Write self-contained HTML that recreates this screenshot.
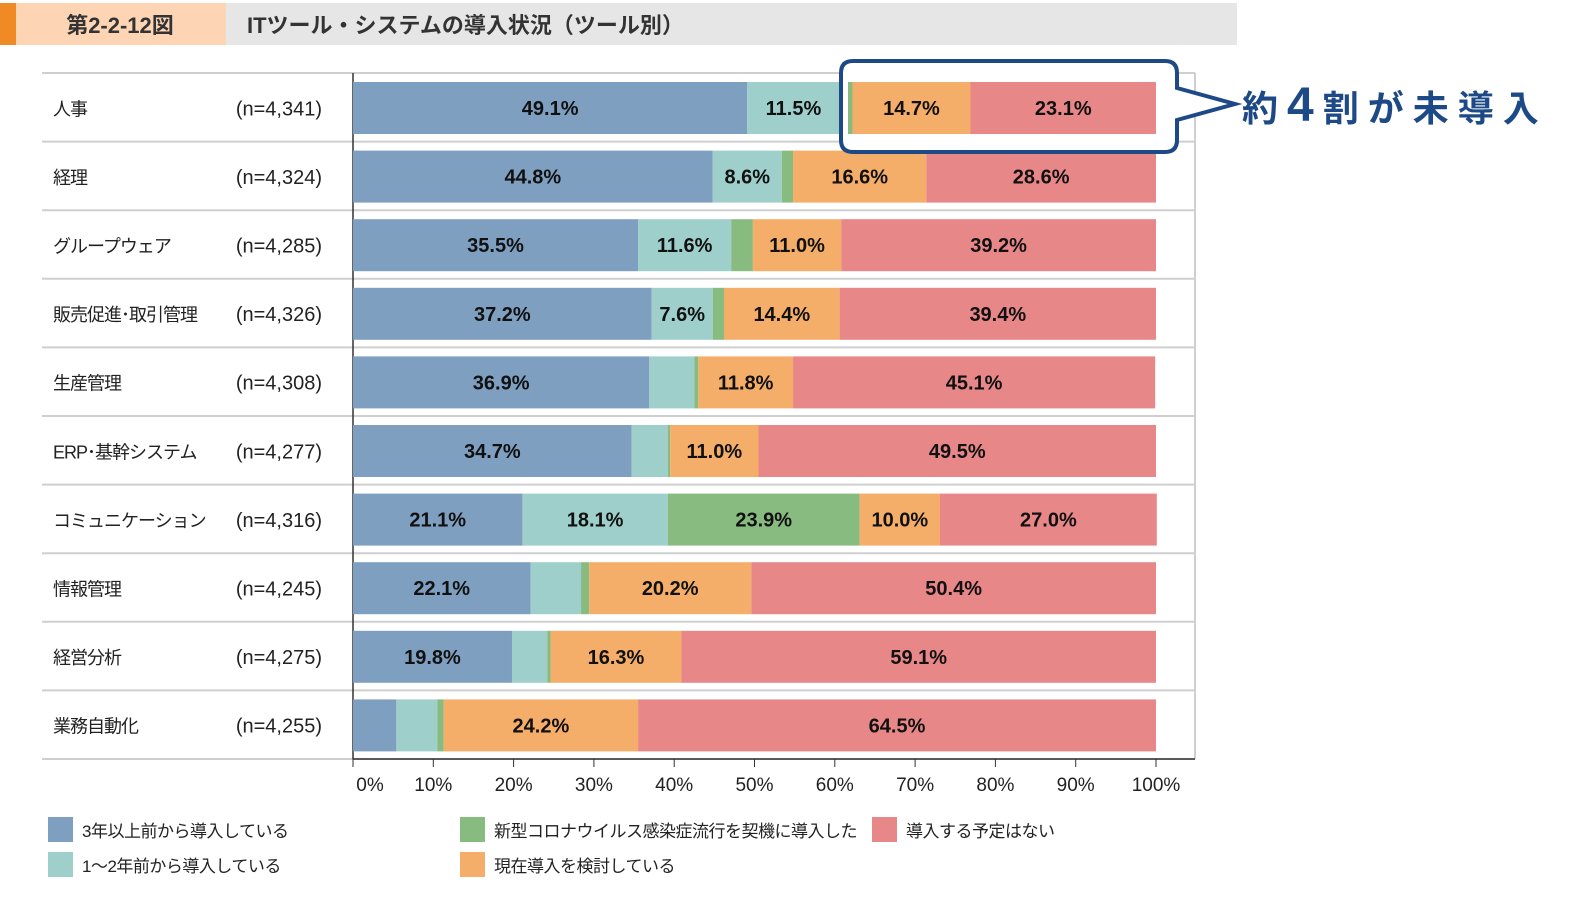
<!DOCTYPE html>
<html><head><meta charset="utf-8"><style>
body{margin:0;background:#fff;width:1590px;height:893px;overflow:hidden;font-family:"Liberation Sans","Noto Sans CJK JP",sans-serif}
svg text{font-family:"Liberation Sans","Noto Sans CJK JP",sans-serif}
</style></head><body>
<svg id="c" width="1590" height="893">
<rect x="0" y="3" width="16" height="42" fill="#f08a24"/>
<rect x="16" y="3" width="210" height="42" fill="#fdd5b4"/>
<text x="120" y="33" font-size="22" font-weight="bold" text-anchor="middle" fill="#333">第2-2-12図</text>
<rect x="226" y="3" width="1011" height="42" fill="#e6e6e6"/>
<text x="247" y="33" font-size="22" font-weight="bold" fill="#333">ITツール・システムの導入状況（ツール別）</text>
<g id="plot"></g>
</svg>
<script>
const categories=["人事","経理","グループウェア","販売促進･取引管理","生産管理","ERP･基幹システム","コミュニケーション","情報管理","経営分析","業務自動化"];
const sampleSizes=["(n=4,341)","(n=4,324)","(n=4,285)","(n=4,326)","(n=4,308)","(n=4,277)","(n=4,316)","(n=4,245)","(n=4,275)","(n=4,255)"];
const over3yrs=[49.1,44.8,35.5,37.2,36.9,34.7,21.1,22.1,19.8,5.4];
const oneTo2yrs=[11.5,8.6,11.6,7.6,5.6,4.5,18.1,6.3,4.4,5.1];
const covid=[1.6,1.4,2.7,1.4,0.5,0.3,23.9,1.0,0.4,0.8];
const considering=[14.7,16.6,11.0,14.4,11.8,11.0,10.0,20.2,16.3,24.2];
const noPlan=[23.1,28.6,39.2,39.4,45.1,49.5,27.0,50.4,59.1,64.5];
const tickLabels=["0%","10%","20%","30%","40%","50%","60%","70%","80%","90%","100%"];
const seriesNames=["3年以上前から導入している","1～2年前から導入している","新型コロナウイルス感染症流行を契機に導入した","現在導入を検討している","導入する予定はない"];
const colors=["#7f9fc1","#9ecfca","#88bb80","#f4ae6a","#e88788"];
const series=[over3yrs,oneTo2yrs,covid,considering,noPlan];
const NS="http://www.w3.org/2000/svg";
const g=document.getElementById('plot');
const x0=353,pw=803,yTop=73,rowH=68.6;
const xs=v=>x0+v/100*pw;
const yr=i=>yTop+i*rowH;
function mk(t,a,p){const e=document.createElementNS(NS,t);for(const k in a)e.setAttribute(k,a[k]);(p||g).appendChild(e);return e;}
for(let i=0;i<=categories.length;i++){
  const l=mk('line',{x1:42,x2:1195,y1:yr(i),y2:yr(i),stroke:'#cfcfcf','stroke-width':2});
  
  
}
const ax=mk('line',{x1:x0,x2:x0,y1:yTop,y2:yr(10),stroke:'#333','stroke-width':1.5});


const rb=mk('line',{x1:1195,x2:1195,y1:yTop,y2:yr(10),stroke:'#cfcfcf','stroke-width':2});


const xa=mk('line',{x1:x0,x2:1195,y1:yr(10),y2:yr(10),stroke:'#333','stroke-width':1.5});


tickLabels.forEach((t,i)=>{
  const x=xs(i*10);
  const tk=mk('line',{x1:x,x2:x,y1:yr(10),y2:yr(10)+8,stroke:'#333'});
  
  
  const tx=mk('text',{x:i==0?x+17:x,y:791,'font-size':19,'text-anchor':'middle',fill:'#222'});
  tx.textContent=t;
  
  
});
function drawRow(i,clipX){
  let acc=0;const y=yr(i)+9,h=52;
  series.forEach((s,k)=>{
    const v=s[i];let a=xs(acc),b=xs(acc+v);acc+=v;
    if(clipX!==undefined){a=Math.max(a,clipX);if(b<=a)return;}
    const r=mk('rect',{x:a,y:y,width:b-a,height:h,fill:colors[k]});
    
    
    if(v>=7&&(clipX===undefined||xs(acc-v)>=clipX-5)){
      const t=mk('text',{x:(xs(acc-v)+b)/2,y:y+33,'font-size':20,'font-weight':'bold','text-anchor':'middle',fill:'#111'});
      t.textContent=v.toFixed(1)+'%';
      
      
    }
  });
}
categories.forEach((c,i)=>{
  drawRow(i);
  const cy=yr(i)+rowH/2+8;
  const t=mk('text',{x:53,y:cy,'font-size':18,fill:'#222','letter-spacing':'-1'});t.textContent=c;
  
  
  const n=mk('text',{x:322,y:cy,'font-size':20,'text-anchor':'end',fill:'#222'});n.textContent=sampleSizes[i];
  
  
});
const box=mk('path',{d:'M853 61 H1165 Q1177 61 1177 73 V88 L1235 104 L1177 120 V140 Q1177 152 1165 152 H853 Q841 152 841 140 V73 Q841 61 853 61 Z',fill:'#fff',stroke:'#1d4a86','stroke-width':4});


drawRow(0,848);
const ct=mk('text',{x:1242,y:121,'font-size':36,'font-weight':'bold',fill:'#1d4a86','letter-spacing':'9'});
ct.innerHTML='約<tspan font-size="48">4</tspan>割が未導入';


const lp=[[48,817],[48,852],[460,817],[460,852],[872,817]];
[0,1,2,3,4].forEach((k,j)=>{
  const [x,y]=lp[j];
  const r=mk('rect',{x:x,y:y,width:25,height:25,fill:colors[k]});
  
  
  const t=mk('text',{x:x+34,y:y+20,'font-size':17,fill:'#222','letter-spacing':'-0.5'});t.textContent=seriesNames[k];
  
  
});
</script>
</body></html>
